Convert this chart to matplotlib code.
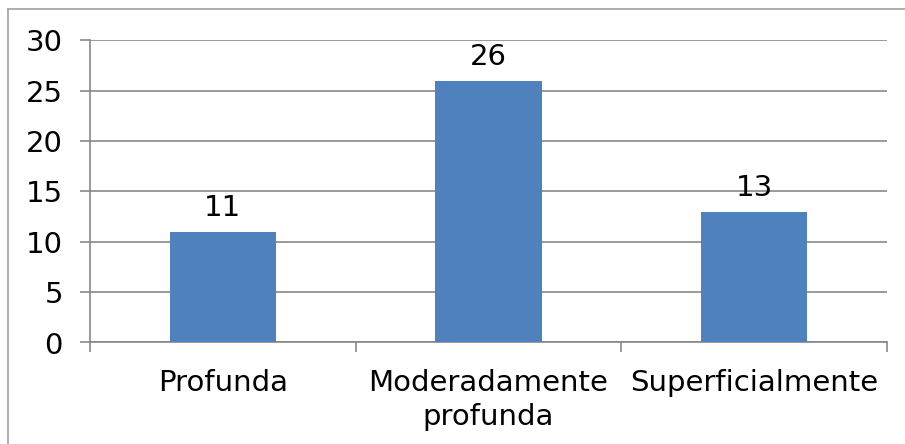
import matplotlib
matplotlib.use('Agg')
import matplotlib.pyplot as plt
from matplotlib.lines import Line2D

# dados do grafico
categorias = ['Profunda', 'Moderadamente\nprofunda', 'Superficialmente']
valores = [11, 26, 13]
ticks_y = [0, 5, 10, 15, 20, 25, 30]

cor_barra = '#4F81BD'
cor_grade = '#878787'

plt.rcParams['font.family'] = 'DejaVu Sans'
plt.rcParams['font.size'] = 21

fig = plt.figure(figsize=(9.05, 4.44), dpi=100)
ax = fig.add_axes([90 / 905, 1 - 342.5 / 444, 797 / 905, 302 / 444])

# moldura do grafico (so topo e esquerda aparecem)
topo = 1 - 9 / 444
esq = 8 / 905
fig.lines.append(Line2D([esq, 1.0], [topo, topo], transform=fig.transFigure,
                        color='#A0A0A0', linewidth=1.2))
fig.lines.append(Line2D([esq, esq], [0, topo], transform=fig.transFigure,
                        color='#A0A0A0', linewidth=1.2))

pos = list(range(len(categorias)))
barras = ax.bar(pos, valores, width=0.4, color=cor_barra, zorder=3)

for b, v in zip(barras, valores):
    ax.annotate(str(v), (b.get_x() + b.get_width() / 2, v),
                xytext=(0, 7), textcoords='offset points',
                ha='center', va='bottom', fontsize=21)

ax.set_xlim(-0.5, 2.5)
ax.set_ylim(0, 30)
ax.set_yticks(ticks_y)
ax.yaxis.grid(True, color=cor_grade, linewidth=1.2, zorder=0)
ax.set_axisbelow(True)

ax.set_xticks(pos)
ax.set_xticklabels(categorias, linespacing=1.3)
ax.set_xticks([-0.5, 0.5, 1.5, 2.5], minor=True)
ax.tick_params(axis='x', which='major', length=0, pad=19)
ax.tick_params(axis='x', which='minor', length=7.5, width=1.2, color=cor_grade)
ax.tick_params(axis='y', length=7.5, width=1.2, color=cor_grade, pad=12)

for lado in ['top', 'right']:
    ax.spines[lado].set_visible(False)
for lado in ['left', 'bottom']:
    ax.spines[lado].set_color(cor_grade)
    ax.spines[lado].set_linewidth(1.2)

fig.savefig('out.png', dpi=100)
